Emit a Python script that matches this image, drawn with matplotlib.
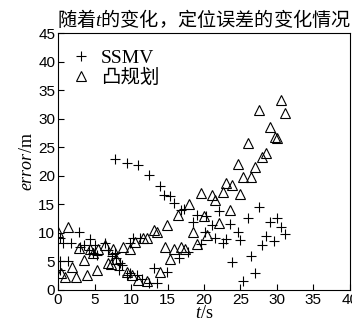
import matplotlib
matplotlib.use("Agg")
import matplotlib.pyplot as plt

plt.rcParams['mathtext.fontset'] = 'custom'
plt.rcParams['mathtext.rm'] = 'Liberation Serif'
plt.rcParams['mathtext.it'] = 'Liberation Serif:italic'

# SSMV (+)
ssmv_t = [0.3, 0.7, 1.8, 2.8, 3.0, 3.5, 4.4, 4.2, 4.8, 5.1, 5.3, 6.4, 6.9, 7.4, 7.8,
          8.0, 8.5, 8.7, 8.3, 9.4, 9.9, 10.8, 11.5, 12.4, 13.5, 13.1, 14.9, 16.6, 17.8,
          0.3, 1.4, 0.3, 9.9, 10.3, 11.2,
          7.8, 9.4, 10.9, 12.5, 14.0, 14.5, 15.3, 15.9, 16.9, 17.3, 19.0, 18.5, 20.3,
          20.1, 19.6,
          22.0, 23.6, 21.1, 27.6, 26.1, 29.0, 30.0, 30.5, 31.1, 24.6, 28.5, 25.0, 23.0,
          22.6, 21.5, 29.6, 28.0, 26.5, 23.9, 27.0, 25.4]
ssmv_err = [9.2, 8.3, 8.3, 10.1, 7.6, 7.9, 8.9, 7.0, 6.4, 7.9, 6.1, 8.2, 7.0, 6.0, 6.5,
            5.6, 4.7, 4.4, 3.5, 2.6, 2.9, 2.6, 2.0, 1.3, 1.2, 3.8, 3.2, 5.6, 6.7,
            5.0, 5.0, 3.5, 8.2, 9.1, 9.1,
            22.9, 22.3, 21.9, 20.2, 18.3, 16.6, 16.4, 15.2, 14.1, 14.2, 13.2, 12.0, 13.0,
            10.2, 8.0,
            13.9, 11.6, 11.4, 14.5, 12.6, 12.0, 12.6, 11.0, 9.9, 10.2, 9.5, 8.8, 8.9,
            8.3, 9.1, 8.6, 7.9, 6.0, 4.9, 3.0, 1.5]

# convex programming (triangles)
cvx_t = [0.0, 1.4, 0.4, 0.9, 1.9, 2.4, 3.5, 3.9, 2.8, 4.4, 4.8, 5.5, 5.4, 6.4, 6.9,
         7.3, 7.5, 8.0, 8.9, 9.8, 9.4, 10.1, 11.0, 12.2, 11.7, 12.2, 13.1, 13.6, 14.9,
         14.6, 15.9, 15.4, 16.5, 18.0, 19.6, 16.9, 17.4, 18.5, 19.0, 20.0, 20.4, 22.0,
         23.5, 21.5, 21.1, 22.6, 25.0, 23.0, 23.9, 25.4, 26.5, 27.0, 24.6, 28.0, 28.5,
         26.1, 29.0, 29.7, 30.0, 27.6, 31.1, 30.5, 10.5, 14.0]
cvx_err = [10.1, 11.1, 3.0, 2.2, 4.1, 2.2, 5.3, 2.6, 7.3, 7.1, 6.4, 7.1, 3.5, 7.9, 4.7,
           4.6, 7.2, 5.4, 7.6, 7.2, 3.2, 2.6, 1.8, 1.5, 9.1, 9.1, 10.5, 10.2, 11.4,
           7.5, 7.1, 5.4, 13.2, 15.0, 17.0, 7.6, 7.2, 10.2, 8.1, 12.9, 9.6, 11.7,
           14.0, 15.7, 16.7, 17.2, 16.8, 18.7, 18.4, 19.8, 19.8, 21.5, 22.1, 23.4, 24.0,
           25.7, 28.5, 26.9, 26.6, 31.5, 31.1, 33.3, 8.5, 3.1]

fig = plt.figure(figsize=(3.52, 3.24), dpi=100)
ax = fig.add_axes([0.165, 0.105, 0.829, 0.792])

ax.plot(ssmv_t, ssmv_err, linestyle='none', marker='+', ms=7, mew=0.8,
        color='black', label='SSMV')
ax.plot(cvx_t, cvx_err, linestyle='none', marker='^', ms=6.5, mew=0.8,
        markerfacecolor='none', markeredgecolor='black', label='凸规划')

ax.set_xlim(0, 40)
ax.set_ylim(0, 45)
ax.set_xticks(range(0, 41, 5))
ax.set_yticks(range(0, 46, 5))
ax.tick_params(direction='in', length=4, width=0.8, labelsize=11, pad=2)
for lab in ax.get_xticklabels() + ax.get_yticklabels():
    lab.set_family('Liberation Sans')
for s in ax.spines.values():
    s.set_linewidth(0.8)

ax.set_xlabel('$t$/s', fontsize=13, family='Liberation Serif', labelpad=-1)
ax.set_ylabel('$error$/m', fontsize=13, family='Liberation Serif', labelpad=2)
ax.set_title('随着$t$的变化，定位误差的变化情况', fontsize=13.8,
             family='Noto Sans CJK SC', pad=5)

ax.legend(loc='upper left', frameon=False, handlelength=0.8, handletextpad=0.6,
          labelspacing=0.1, borderaxespad=0.4,
          prop={'family': ['Liberation Serif', 'Noto Sans CJK SC'], 'size': 14})

fig.savefig('out.png', dpi=100)
